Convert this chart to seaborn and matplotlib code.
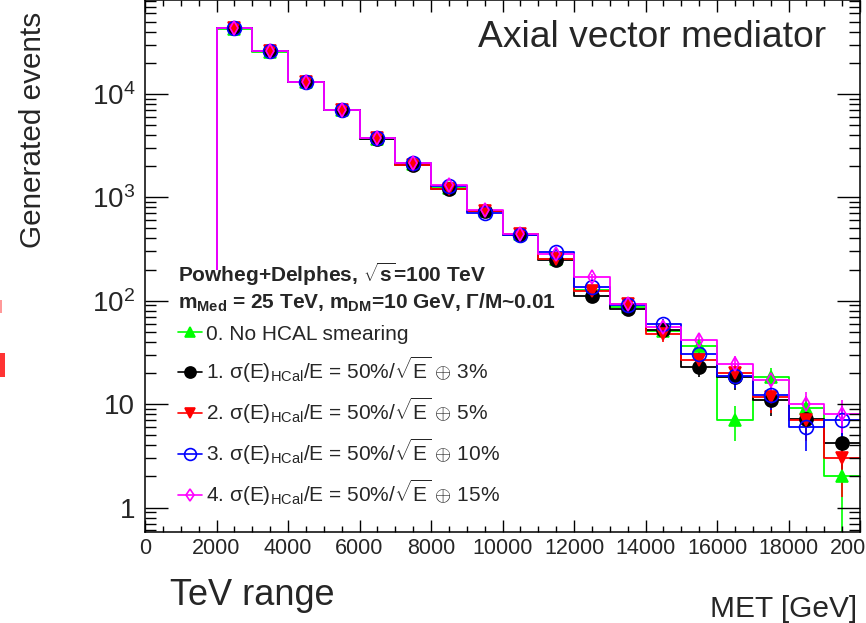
import numpy as np
import pandas as pd
import matplotlib
matplotlib.use("Agg")
import matplotlib.pyplot as plt
import seaborn as sns
from matplotlib.ticker import (FixedLocator, MultipleLocator, FixedFormatter,
                               LogLocator, NullFormatter, FuncFormatter)
from matplotlib.lines import Line2D
from matplotlib.patches import Rectangle

# ---------------- data ----------------
bin_edges = [0, 1000, 2000, 3000, 4000, 5000, 6000, 7000, 8000, 9000, 10000,
             11000, 12000, 13000, 14000, 15000, 16000, 17000, 18000, 19000, 20000]
met_centers = [2500, 3500, 4500, 5500, 6500, 7500, 8500, 9500, 10500, 11500,
               12500, 13500, 14500, 15500, 16500, 17500, 18500, 19500]

no_smearing = [42300, 25300, 13100, 7000, 3700, 2090, 1230, 730, 440, 252,
               127, 87, 50.8, 36.6, 7.0, 18.3, 9.1, 2.0]
smear_3pct = [43500, 25900, 13150, 7000, 3640, 2055, 1210, 735, 437, 245,
              112, 84, 52.7, 22.9, 18.1, 10.9, 7.2, 4.2]
smear_5pct = [43800, 26200, 13150, 7000, 3720, 2060, 1195, 745, 440, 256,
              123, 94, 47.2, 26.6, 20.2, 11.7, 7.0, 3.0]
smear_10pct = [43600, 26000, 13100, 6950, 3760, 2130, 1300, 700, 437, 297,
               136, 90.6, 59.3, 30.4, 18.6, 12.2, 6.0, 7.0]
smear_15pct = [43850, 26240, 13150, 7000, 3776, 2133, 1306, 753, 443, 283,
               170, 92.7, 56, 41.6, 24.2, 17.0, 10.0, 8.1]

series_labels = [
    "0. No HCAL smearing",
    r"1. σ(E)$_{\mathregular{HCal}}$/E = 50%/$\mathregular{\sqrt{E}}$ $\oplus$ 3%",
    r"2. σ(E)$_{\mathregular{HCal}}$/E = 50%/$\mathregular{\sqrt{E}}$ $\oplus$ 5%",
    r"3. σ(E)$_{\mathregular{HCal}}$/E = 50%/$\mathregular{\sqrt{E}}$ $\oplus$ 10%",
    r"4. σ(E)$_{\mathregular{HCal}}$/E = 50%/$\mathregular{\sqrt{E}}$ $\oplus$ 15%",
]
y_tick_values = [1, 10, 100, 1000, 10000]
y_tick_labels = ["1", "10", r"$\mathregular{10^{2}}$", r"$\mathregular{10^{3}}$",
                 r"$\mathregular{10^{4}}$"]
header_text = ("Powheg+Delphes, $\\mathregular{\\sqrt{s}}$=100 TeV\n"
               "m$_{\\mathregular{Med}}$ = 25 TeV, m$_{\\mathregular{DM}}$=10 GeV, Γ/M~0.01")

# ---------------- style ----------------
sns.set_style("ticks")
plt.rcParams["font.family"] = ["Liberation Sans", "DejaVu Sans"]
plt.rcParams["mathtext.fontset"] = "custom"
plt.rcParams["mathtext.rm"] = "Liberation Sans"
plt.rcParams["mathtext.it"] = "Liberation Sans:italic"
plt.rcParams["mathtext.bf"] = "Liberation Sans:bold"
plt.rcParams["mathtext.sf"] = "Liberation Sans"
plt.rcParams["axes.edgecolor"] = "black"

W, H = 866, 623
fig = plt.figure(figsize=(W / 100, H / 100), dpi=100)
ax = fig.add_axes([145 / W, 1 - 532 / H, 715 / W, 532 / H])
ax.set_axisbelow(False)

all_series = [no_smearing, smear_3pct, smear_5pct, smear_10pct, smear_15pct]
colors = ["#00ff00", "#000000", "#ff0000", "#0000ff", "#ff00ff"]
markers = ["^", "o", "v", "o", "d"]
msizes = [8.0, 9.4, 8.8, 10.0, 7.5]
filled = [True, True, True, False, False]

for vals, col, mk, ms, fl in zip(all_series, colors, markers, msizes, filled):
    df = pd.DataFrame({"MET": met_centers, "N": vals})
    sns.histplot(data=df, x="MET", weights="N", bins=bin_edges, element="step",
                 fill=False, color=col, linewidth=1.3, ax=ax, legend=False)
    ax.errorbar(met_centers, vals, yerr=np.sqrt(np.array(vals)), linestyle="none",
                marker=mk, ms=ms, mfc=col if fl else "none", mec=col, mew=1.2,
                ecolor=col, elinewidth=1.2, capsize=0)

ax.set_xlabel("")
ax.set_ylabel("")
ax.set_yscale("log")
ax.set_xlim(0, 20000)
ax.set_ylim(0.58, 8.1e4)

ax.xaxis.set_major_locator(MultipleLocator(2000))
ax.xaxis.set_minor_locator(MultipleLocator(500))
ax.xaxis.set_major_formatter(FuncFormatter(lambda v, p: f"{int(round(v))}"))
ax.yaxis.set_major_locator(FixedLocator(y_tick_values))
ax.yaxis.set_major_formatter(FixedFormatter(y_tick_labels))
ax.yaxis.set_minor_locator(LogLocator(base=10, subs=np.arange(2, 10), numticks=30))
ax.yaxis.set_minor_formatter(NullFormatter())

ax.tick_params(axis="x", which="major", direction="in", length=8.6, width=1.0,
               top=True, bottom=True, labelsize=15.5, pad=4, color="black")
ax.tick_params(axis="x", which="minor", direction="in", length=4.3, width=1.0,
               top=True, bottom=True, color="black")
ax.tick_params(axis="y", which="major", direction="in", length=16.5, width=1.0,
               left=True, right=True, labelsize=20, pad=7, color="black")
ax.tick_params(axis="y", which="minor", direction="in", length=8.2, width=1.0,
               left=True, right=True, color="black")
for s in ax.spines.values():
    s.set_linewidth(1.1)
    s.set_color("black")

# white legend background (covers histogram edge like ROOT TLegend)
ax.add_patch(Rectangle((0.002, 0.0), (555 - 145) / 715, (532 - 270) / 532,
                       transform=ax.transAxes, facecolor="white", edgecolor="none",
                       zorder=2.2))

handles = [Line2D([0], [0], color=c, marker=m, ms=ms * 0.85, mfc=c if fl else "none",
                  mec=c, mew=1.2, lw=1.2)
           for c, m, ms, fl in zip(colors, markers, msizes, filled)]
leg = ax.legend(handles, series_labels, loc="upper left",
                bbox_to_anchor=(178 / W, 1 - 261 / H), bbox_transform=fig.transFigure,
                frameon=False, borderpad=0, borderaxespad=0, numpoints=1,
                handlelength=1.15, handletextpad=0.2, labelspacing=0.52,
                prop={"size": 15}, title=header_text,
                title_fontproperties={"size": 15, "weight": "bold"},
                alignment="left")
leg.set_zorder(5)

# texts
fig.text(478 / W, 1 - 47 / H, "Axial vector mediator", fontsize=26.8,
         ha="left", va="baseline")
fig.text(33 / W, 1 - 130 / H, "Generated events", fontsize=21.4, rotation=90,
         ha="center", va="center")
fig.text(170 / W, 1 - 605 / H, "TeV range", fontsize=26, ha="left", va="baseline")
fig.text(857 / W, 1 - 617 / H, "MET [GeV]", fontsize=21.5, ha="right", va="baseline")

# red fragments at left edge (cropped slide content)
fig.patches.append(Rectangle((0, 1 - 377 / H), 5 / W, 24 / H, transform=fig.transFigure,
                             facecolor="#ff3333", edgecolor="none"))
fig.patches.append(Rectangle((0, 1 - 313 / H), 1.5 / W, 13 / H, transform=fig.transFigure,
                             facecolor="#ff9999", edgecolor="none"))

fig.savefig("out.png", dpi=100)
